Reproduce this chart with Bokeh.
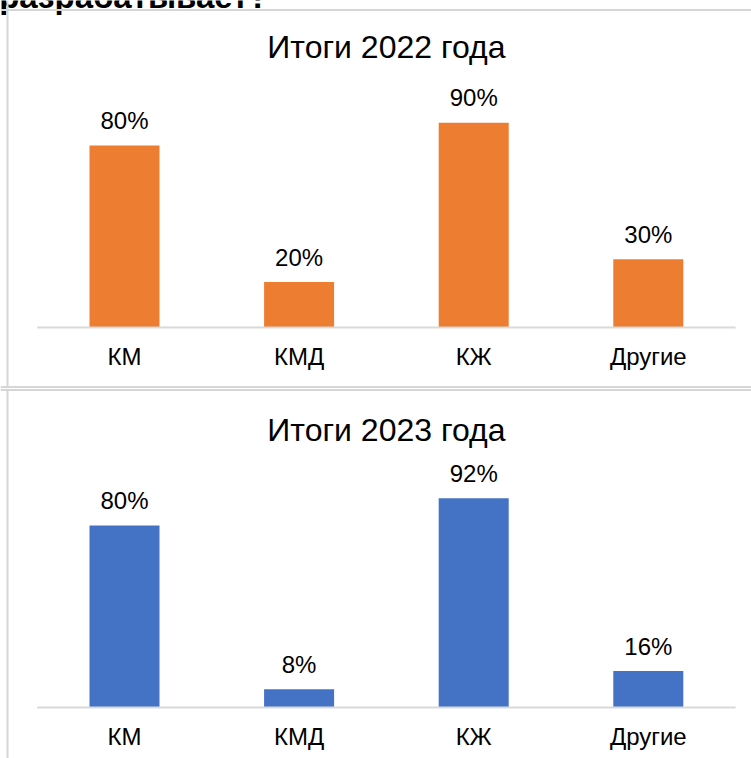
from bokeh.plotting import figure
from bokeh.layouts import column
from bokeh.models import Span, Range1d, ColumnDataSource
from bokeh.core.properties import value
from bokeh.embed import file_html
from bokeh.resources import INLINE

categories = ["КМ", "КМД", "КЖ", "Другие"]
values_2022 = [80, 20, 90, 30]
values_2023 = [80, 8, 92, 16]
titles = ["Итоги 2022 года", "Итоги 2023 года"]
colors = ["#ED7D31", "#4472C4"]
header_tail = "разрабатывает?"

FONT = value("Liberation Sans")
W = 751
PXX = 174.6          # pixels per category
X0 = 124.0           # pixel of first category centre
PXY = 2.275          # pixels per percent
BORDER = "#d6d6d6"

x_start = -X0 / PXX
x_end = x_start + W / PXX


def px2x(p):
    return x_start + p / PXX


def make(title, vals, color, H, zero, title_base, top_b, bottom_b, cat_off):
    n = len(categories)

    def px2y(p):
        return (zero - p) / PXY

    p = figure(width=W, height=H,
               x_range=Range1d(x_start, x_end),
               y_range=Range1d(-(H - zero) / PXY, zero / PXY),
               x_axis_type=None, y_axis_type=None,
               output_backend="svg", toolbar_location=None,
               min_border=0, outline_line_color=None,
               background_fill_color="white", border_fill_color="white")
    p.grid.visible = False
    src = ColumnDataSource(dict(
        x=list(range(n)), cat=categories, val=vals,
        lab=[f"{v}%" for v in vals]))
    p.vbar(x="x", top="val", bottom=0, width=0.401, source=src,
           fill_color=color, line_color=None)
    p.segment(x0=[-0.5], y0=[0], x1=[n - 0.5], y1=[0],
              line_color="#d9d9d9", line_width=2)
    p.text(x="x", y="val", text="lab", source=src, y_offset=-25,
           text_align="center", text_baseline="alphabetic",
           text_font=FONT, text_font_size="24px", text_color="#000000")
    p.text(x="x", y=0, text="cat", source=src, y_offset=cat_off,
           text_align="center", text_baseline="alphabetic",
           text_font=FONT, text_font_size="24px", text_color="#000000")
    p.text(x=[(n - 1) / 2], y=[px2y(title_base)], text=[title],
           text_align="center", text_baseline="alphabetic",
           text_font=FONT, text_font_size="32px", text_color="#000000")
    p.add_layout(Span(location=px2x(7), dimension="height",
                      line_color=BORDER, line_width=2))
    p.add_layout(Span(location=px2y(top_b), dimension="width",
                      line_color=BORDER, line_width=2))
    if bottom_b is not None:
        p.add_layout(Span(location=px2y(bottom_b), dimension="width",
                          line_color=BORDER, line_width=2))
    return p, px2y


p1, y1 = make(titles[0], values_2022, colors[0], 388, 327, 46.5, 9.5, 386.5, 29)
p1.text(x=[px2x(268)], y=[y1(-4)], text=[header_tail],
        text_align="right", text_baseline="alphabetic",
        text_font=FONT, text_font_style="bold", text_font_size="33px",
        text_color="#000000")
p2, _ = make(titles[1], values_2023, colors[1], 370, 319, 41.5, 1.5, None, 29)
layout = column(p1, p2, spacing=0)

open("out.html", "w").write(file_html(layout, INLINE))
